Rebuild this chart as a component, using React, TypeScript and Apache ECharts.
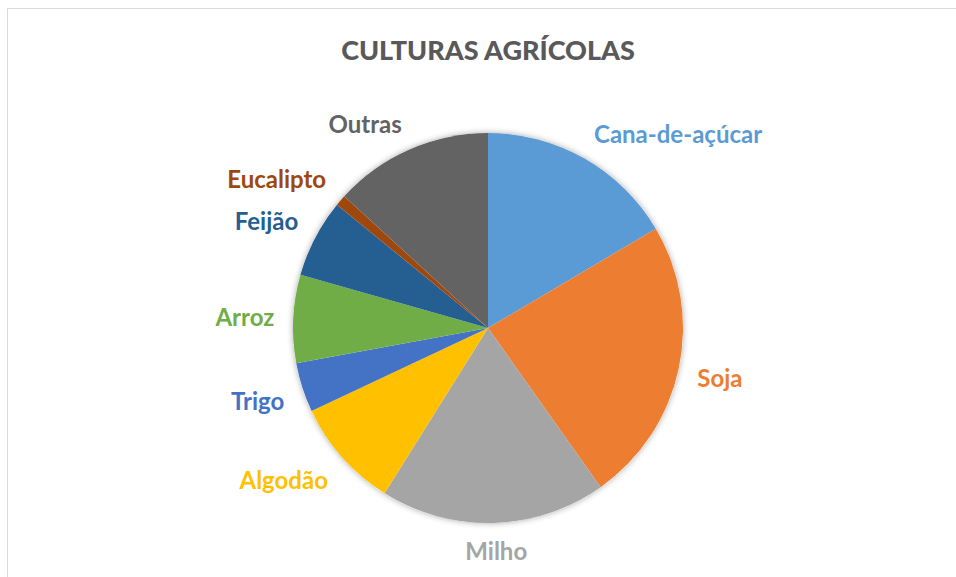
import React, { useEffect, useRef } from "react";
import * as echarts from "echarts";

const chartTitle = "CULTURAS AGRÍCOLAS";
const categories = ["Cana-de-açúcar", "Soja", "Milho", "Algodão", "Trigo", "Arroz", "Feijão", "Eucalipto", "Outras"];
const shares = [16.5, 23.7, 18.7, 9.1, 4.1, 7.3, 6.5, 0.9, 13.2];
const colors = ["#5B9BD5", "#ED7D31", "#A5A5A5", "#FFC000", "#4472C4", "#70AD47", "#255E91", "#9E480E", "#636363"];

const CX = 488;
const CY = 328;
const R = 195;
const LABEL_GAP = 19;
const FONT = "Lato, 'Open Sans', sans-serif";

export default function App() {
  const ref = useRef<HTMLDivElement>(null);

  useEffect(() => {
    if (!ref.current) return;
    const chart = echarts.init(ref.current, null, { renderer: "svg" });

    const total = shares.reduce((a, b) => a + b, 0);
    const mids: number[] = [];
    let cum = 0;
    shares.forEach((v) => {
      mids.push(((cum + v / 2) / total) * Math.PI * 2);
      cum += v;
    });
    const clamp = (v: number) => Math.max(-1, Math.min(1, v));

    chart.setOption({
      animation: false,
      backgroundColor: "#ffffff",
      graphic: [
        {
          type: "rect",
          shape: { x: 7.5, y: 8.5, width: 1000, height: 700 },
          style: { fill: "none", stroke: "#d9d9d9", lineWidth: 1 },
          silent: true,
        },
        {
          type: "text",
          x: CX,
          y: 49,
          style: {
            text: chartTitle,
            fill: "#595959",
            font: `900 27px ${FONT}`,
            align: "center",
            verticalAlign: "middle",
          },
        },
      ],
      series: [
        {
          type: "pie",
          silent: true,
          center: [CX, CY],
          radius: R,
          z: 1,
          label: { show: false },
          labelLine: { show: false },
          itemStyle: {
            color: "#ffffff",
            shadowBlur: 6,
            shadowColor: "rgba(0,0,0,0.35)",
          },
          data: [{ value: 1, name: "" }],
        },
        {
          type: "pie",
          center: [CX, CY],
          radius: R,
          startAngle: 90,
          clockwise: true,
          z: 2,
          avoidLabelOverlap: false,
          itemStyle: { borderWidth: 0 },
          label: {
            show: true,
            position: "outside",
            fontFamily: FONT,
            fontWeight: "bold",
            fontSize: 24,
            formatter: "{b}",
          },
          labelLine: { show: false },
          labelLayout: (params: any) => {
            const i = params.dataIndex;
            const t = mids[i];
            const s = Math.sin(t);
            const c = Math.cos(t);
            const rr = R + LABEL_GAP;
            const px = CX + rr * s;
            const py = CY - rr * c;
            const w = params.labelRect.width;
            const hh = params.labelRect.height / 2 - 3;
            return {
              x: px + (w / 2) * clamp(2.5 * s),
              y: py + hh * clamp(-2.5 * c),
              align: "center",
              verticalAlign: "middle",
            };
          },
          data: categories.map((name, i) => ({
            name,
            value: shares[i],
            itemStyle: { color: colors[i] },
            label: { color: colors[i] },
          })),
        },
      ],
    });

    return () => chart.dispose();
  }, []);

  return (
    <div
      ref={ref}
      style={{ position: "fixed", left: 0, top: 0, width: 956, height: 577 }}
    />
  );
}
